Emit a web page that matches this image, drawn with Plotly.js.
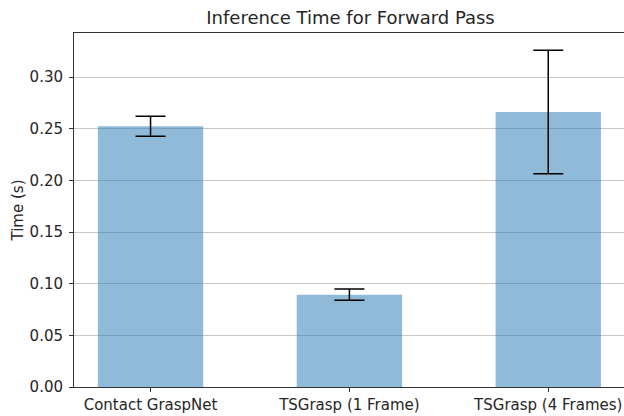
<!DOCTYPE html>
<html>
<head>
<meta charset="utf-8">
<script src="https://cdn.plot.ly/plotly-3.0.1.min.js"></script>
<style>html,body{margin:0;padding:0;background:#fff;}#chart{width:624px;height:416px;}</style>
</head>
<body>
<div id="chart"></div>
<script>
const categories = ["Contact GraspNet", "TSGrasp (1 Frame)", "TSGrasp (4 Frames)"];
const meanTimes = [0.2523, 0.0894, 0.2661];
const stdTimes = [0.0097, 0.0055, 0.0597];
const yTickVals = [0.00, 0.05, 0.10, 0.15, 0.20, 0.25, 0.30];
const yTickText = ["0.00", "0.05", "0.10", "0.15", "0.20", "0.25", "0.30"];

const trace = {
  type: "bar",
  x: [0, 1, 2],
  y: meanTimes,
  width: 0.53,
  marker: {color: "rgba(31,119,180,0.5)", line: {width: 0}},
  error_y: {type: "data", array: stdTimes, visible: true, color: "#000000", thickness: 1.5, width: 15},
  hoverinfo: "none"
};

const font = {family: "DejaVu Sans, sans-serif", color: "#262626"};

const layout = {
  width: 624, height: 416,
  margin: {l: 74, r: 0, t: 33, b: 29, pad: 0},
  paper_bgcolor: "#ffffff",
  plot_bgcolor: "#ffffff",
  showlegend: false,
  title: {text: "Inference Time for Forward Pass", font: Object.assign({size: 18}, font), x: 0.5617, xanchor: "center", y: 0.957, yanchor: "middle"},
  xaxis: {
    range: [-0.385, 2.381],
    tickmode: "array", tickvals: [0, 1, 2], ticktext: categories,
    ticks: "outside", ticklen: 4, tickwidth: 1, tickcolor: "#333",
    showgrid: false, zeroline: false,
    showline: true, linecolor: "#333", linewidth: 1, mirror: true,
    tickfont: Object.assign({size: 15}, font)
  },
  yaxis: {
    range: [0, 0.3426],
    tickmode: "array", tickvals: yTickVals, ticktext: yTickText,
    ticks: "outside", ticklen: 4, tickwidth: 1, tickcolor: "#333",
    ticklabelstandoff: 3,
    showgrid: true, gridcolor: "#c8c8c8", gridwidth: 1,
    zeroline: false,
    showline: true, linecolor: "#333", linewidth: 1, mirror: true,
    tickfont: Object.assign({size: 15}, font),
    title: {text: "Time (s)", font: Object.assign({size: 15}, font), standoff: 2}
  }
};

Plotly.newPlot("chart", [trace], layout, {staticPlot: true, displayModeBar: false});
</script>
</body>
</html>
